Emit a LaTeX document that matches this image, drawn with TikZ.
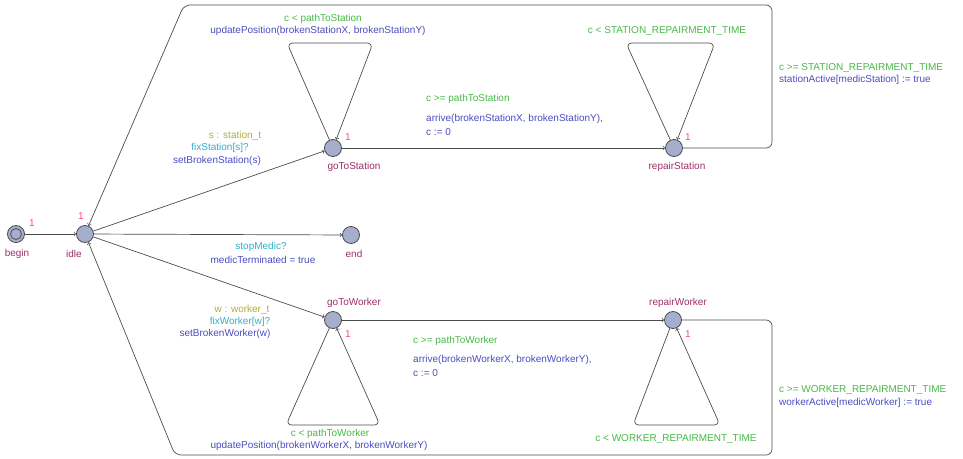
\documentclass[tikz,border=0pt]{standalone}
\usepackage{fontspec}
\setmainfont{Liberation Sans}
\usepackage{tikz}

\definecolor{locfill}{RGB}{166,174,206}
\definecolor{locname}{RGB}{160,45,100}
\definecolor{prio}{RGB}{255,70,135}
\definecolor{guard}{RGB}{70,185,70}
\definecolor{sel}{RGB}{175,175,50}
\definecolor{sync}{RGB}{50,175,200}
\definecolor{upd}{RGB}{75,75,195}

\tikzset{
  loc/.style={circle,draw=black!70,fill=locfill,minimum size=17pt,inner sep=0pt,line width=0.8pt},
  edge/.style={draw=black!70,line width=0.7pt,->,rounded corners=6pt},
  lbl/.style={inner sep=0pt,font=\fontsize{10}{12}\selectfont},
  lname/.style={lbl,text=locname},
  prionum/.style={lbl,text=prio}
}

\begin{document}
\begin{tikzpicture}[x=1pt,y=-1pt]
\useasboundingbox (0,0) rectangle (963,458);

\node[loc] (begin) at (16,234) {};
\draw[draw=black!70,line width=0.8pt] (begin.center) circle (5.5pt);
\node[loc] (idle) at (85,234) {};
\node[loc] (goToStation) at (333,148) {};
\node[loc] (repairStation) at (674,148) {};
\node[loc] (end) at (351,235) {};
\node[loc] (goToWorker) at (333,320) {};
\node[loc] (repairWorker) at (673,320) {};

\node[lname] (nbegin) at (17,254) {begin};
\node[lname] (nidle) at (74,254) {idle};
\node[lname] (ngts) at (354,167) {goToStation};
\node[lname] (nrs) at (677,167) {repairStation};
\node[lname] (nend) at (354,254) {end};
\node[lname] (ngtw) at (354,303) {goToWorker};
\node[lname] (nrw) at (678,303) {repairWorker};

\node[prionum] (pbegin) at (32,223) {1};
\node[prionum] (pidle) at (81,216) {1};
\node[prionum] (pgts) at (348,137) {1};
\node[prionum] (prs) at (688,137) {1};
\node[prionum] (pgtw) at (348,334) {1};
\node[prionum] (prw) at (688,334) {1};

\draw[edge] (begin) -- (idle);
\draw[edge] (idle) -- (goToStation);
\draw[edge] (idle) -- (end);
\draw[edge] (idle) -- (goToWorker);
\draw[edge] (goToStation) -- (287,43) -- (373,43) -- (goToStation);
\draw[edge] (goToStation) -- (repairStation);
\draw[edge] (repairStation) -- (626,43) -- (715,43) -- (repairStation);
\draw[edge] (repairStation) -- (772,148) -- (772,5) -- (184,5) -- (idle);
\draw[edge] (goToWorker) -- (286,425) -- (380,425) -- (goToWorker);
\draw[edge] (goToWorker) -- (repairWorker);
\draw[edge] (repairWorker) -- (633,425) -- (720,425) -- (repairWorker);
\draw[edge] (repairWorker) -- (772,320) -- (772,455) -- (175,455) -- (idle);

\node[lbl,text=sel] (s1) at (235,136) {s : station\_t};
\node[lbl,text=sync] (s2) at (220,148) {fixStation[s]?};
\node[lbl,text=upd] (s3) at (217,161) {setBrokenStation(s)};

\node[lbl,text=guard] (g1) at (323,19) {c < pathToStation};
\node[lbl,text=upd] (u1) at (318,31) {updatePosition(brokenStationX, brokenStationY)};

\node[lbl,text=guard,anchor=west] (g2) at (426,99) {c >= pathToStation};
\node[lbl,text=upd,anchor=west] (u2) at (426,119) {arrive(brokenStationX, brokenStationY),};
\node[lbl,text=upd,anchor=west] (u3) at (426,132) {c := 0};

\node[lbl,text=guard] (g3) at (667,31) {c < STATION\_REPAIRMENT\_TIME};

\node[lbl,text=guard,anchor=west] (g4) at (779,68) {c >= STATION\_REPAIRMENT\_TIME};
\node[lbl,text=upd,anchor=west] (u4) at (779,80) {stationActive[medicStation] := true};

\node[lbl,text=sync] (s4) at (261,247) {stopMedic?};
\node[lbl,text=upd] (u5) at (263,260) {medicTerminated = true};

\node[lbl,text=sel] (s5) at (242,310) {w : worker\_t};
\node[lbl,text=sync] (s6) at (240,322) {fixWorker[w]?};
\node[lbl,text=upd] (s7) at (225,334) {setBrokenWorker(w)};

\node[lbl,text=guard] (g5) at (330,434) {c < pathToWorker};
\node[lbl,text=upd] (u6) at (319,446) {updatePosition(brokenWorkerX, brokenWorkerY)};

\node[lbl,text=guard,anchor=west] (g6) at (413,341) {c >= pathToWorker};
\node[lbl,text=upd,anchor=west] (u7) at (413,360) {arrive(brokenWorkerX, brokenWorkerY),};
\node[lbl,text=upd,anchor=west] (u8) at (413,373) {c := 0};

\node[lbl,text=guard] (g7) at (676,439) {c < WORKER\_REPAIRMENT\_TIME};

\node[lbl,text=guard,anchor=west] (g8) at (779,390) {c >= WORKER\_REPAIRMENT\_TIME};
\node[lbl,text=upd,anchor=west] (u9) at (779,403) {workerActive[medicWorker] := true};
\end{tikzpicture}
\end{document}
